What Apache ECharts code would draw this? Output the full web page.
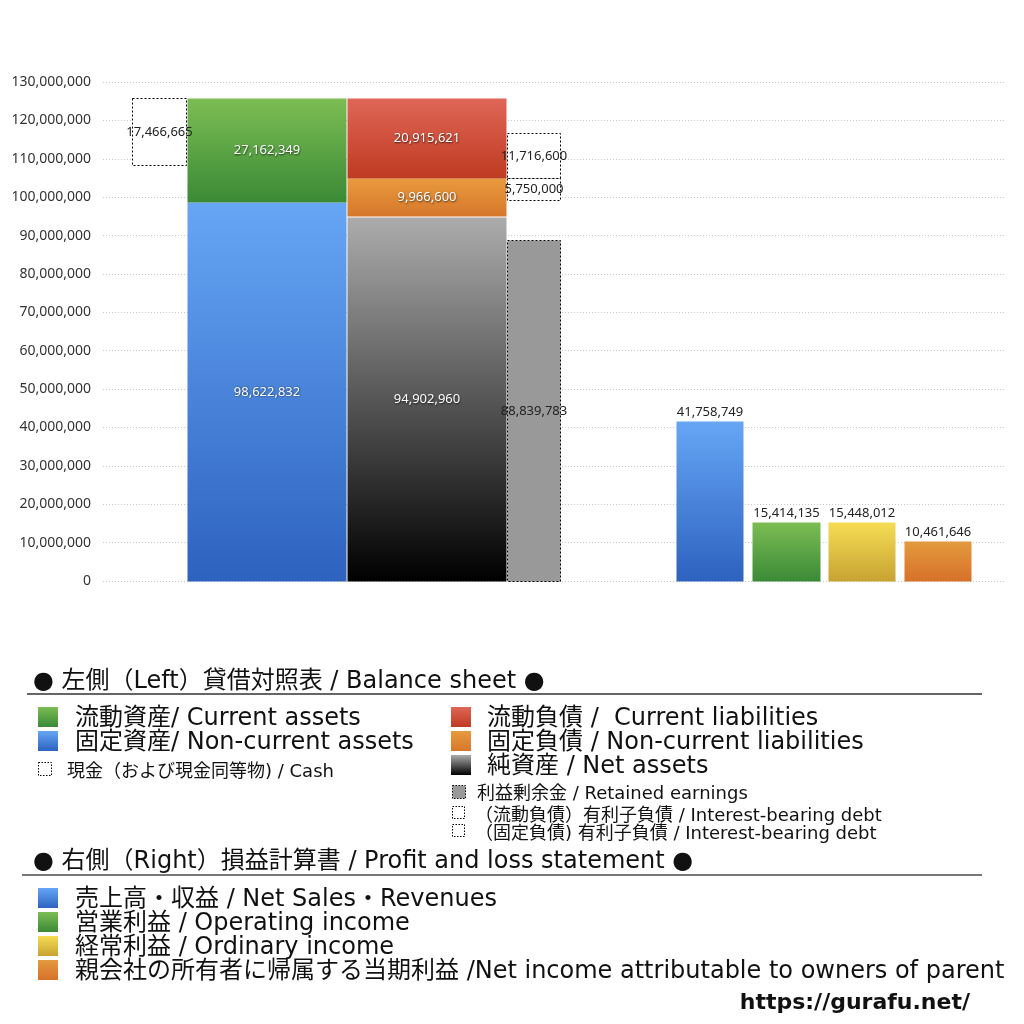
<!DOCTYPE html>
<html>
<head>
<meta charset="utf-8">
<script src="https://cdn.jsdelivr.net/npm/echarts@6/dist/echarts.min.js"></script>
<style>html,body{margin:0;padding:0;background:#fff}#chart{width:1024px;height:1024px}</style>
</head>
<body>
<div id="chart"></div>
<script>
// left side: balance sheet
const assetValues = [98622832, 27162349]               // 固定資産, 流動資産
const liabilityValues = [94902960, 9966600, 20915621]  // 純資産, 固定負債, 流動負債
const cashValue = 17466665
const retainedEarnings = 88839783
const debtValues = [5750000, 11716600]                 // 固定負債の有利子負債, 流動負債の有利子負債
// right side: profit and loss
const plNames = ['売上高・収益', '営業利益', '経常利益', '当期利益']
const plValues = [41758749, 15414135, 15448012, 10461646]
const yMin = 0, yMax = 130000000, yStep = 10000000

const FONT = '"DejaVu Sans", "Noto Sans CJK JP", sans-serif'
const NUMFONT = '"Noto Sans", sans-serif'

const grad = (a, b) => new echarts.graphic.LinearGradient(0, 0, 0, 1, [
  { offset: 0, color: a }, { offset: 1, color: b }
])
const C = {
  blue: ['#66a6f5', '#2d62bf'],
  green: ['#7cbd53', '#3a8a36'],
  red: ['#df6657', '#bf3a21'],
  orange: ['#e99a3e', '#d6772b'],
  black: ['#acacac', '#000000'],
  yellow: ['#f5dd53', '#c7a232'],
  plOrange: ['#e49a3e', '#d6712a']
}

// column positions in grid pixels (x axis is 0..902)
const COL = {
  cash: [29, 83], assets: [84, 243], liab: [244, 403], debt: [404, 457],
  pl: [[573, 640], [649, 717], [725, 792], [801, 868]]
}

const fmt = v => v.toLocaleString('en-US')
const dashed = fill => ({ fill: fill, stroke: '#000', lineWidth: 1, lineDash: [2, 2] })
const rects = []
const add = (col, lo, hi, value, style, kind) => rects.push({ col, lo, hi, value, style, kind })

let acc = 0
const assetColors = [C.blue, C.green]
assetValues.forEach((v, i) => { add(COL.assets, acc, acc + v, v, { fill: grad(...assetColors[i]) }, 'white'); acc += v })
const totalAssets = acc
add(COL.cash, totalAssets - cashValue, totalAssets, cashValue, dashed('#fff'), 'dark')

acc = 0
const liabColors = [C.black, C.orange, C.red]
liabilityValues.forEach((v, i) => { add(COL.liab, acc, acc + v, v, { fill: grad(...liabColors[i]) }, 'white'); acc += v })
const fixedTop = liabilityValues[0] + liabilityValues[1]
add(COL.debt, 0, retainedEarnings, retainedEarnings, dashed('#999'), 'dark')
add(COL.debt, fixedTop - debtValues[0], fixedTop, debtValues[0], dashed('#fff'), 'dark')
add(COL.debt, fixedTop, fixedTop + debtValues[1], debtValues[1], dashed('#fff'), 'dark')

const plColors = [C.blue, C.green, C.yellow, C.plOrange]
plValues.forEach((v, i) => add(COL.pl[i], 0, v, v, { fill: grad(...plColors[i]) }, 'top'))

const chart = echarts.init(document.getElementById('chart'))

function sq(x, y, s, fill, dash) {
  return {
    type: 'rect', shape: { x: x, y: y, width: s, height: s },
    style: dash ? { fill: fill, stroke: '#000', lineWidth: 1, lineDash: [1.5, 1.5] } : { fill: fill }
  }
}
function txt(x, cy, text, size, extra) {
  return {
    type: 'text', x: x, y: cy + 2,
    style: Object.assign({ text: text, font: size + 'px ' + FONT, fill: '#111', verticalAlign: 'middle' }, extra || {})
  }
}
const gfill = c => ({ type: 'linear', x: 0, y: 0, x2: 0, y2: 1, colorStops: [{ offset: 0, color: c[0] }, { offset: 1, color: c[1] }] })

const graphics = [
  txt(33, 680, '● 左側（Left）貸借対照表 / Balance sheet ●', 24),
  { type: 'line', shape: { x1: 27, y1: 694, x2: 982, y2: 694 }, style: { stroke: '#333', lineWidth: 1.5 } },
  sq(38, 707, 20, gfill(C.green)), txt(75, 717, '流動資産/ Current assets', 24),
  sq(38, 731, 20, gfill(C.blue)), txt(75, 741, '固定資産/ Non-current assets', 24),
  sq(38.5, 762.5, 13, '#fff', true), txt(67, 770, '現金（および現金同等物) / Cash', 18),
  sq(451, 707, 20, gfill(C.red)), txt(487, 717, '流動負債 /  Current liabilities', 24),
  sq(451, 731, 20, gfill(C.orange)), txt(487, 741, '固定負債 / Non-current liabilities', 24),
  sq(451, 755, 20, gfill(C.black)), txt(487, 765, '純資産 / Net assets', 24),
  sq(452.5, 785.5, 13, '#999', true), txt(477, 792, '利益剰余金 / Retained earnings', 18),
  sq(452.5, 806.5, 12, '#fff', true), txt(475, 814, '（流動負債）有利子負債 / Interest-bearing debt', 18),
  sq(452.5, 824.5, 12, '#fff', true), txt(475, 832, '（固定負債) 有利子負債 / Interest-bearing debt', 18),
  txt(33, 860, '● 右側（Right）損益計算書 / Profit and loss statement ●', 24),
  { type: 'line', shape: { x1: 22, y1: 875, x2: 982, y2: 875 }, style: { stroke: '#777', lineWidth: 2 } },
  sq(38, 888, 20, gfill(C.blue)), txt(75, 898, '売上高・収益 / Net Sales・Revenues', 24),
  sq(38, 912, 20, gfill(C.green)), txt(75, 922, '営業利益 / Operating income', 24),
  sq(38, 936, 20, gfill(C.yellow)), txt(75, 946, '経常利益 / Ordinary income', 24),
  sq(38, 960, 20, gfill(C.plOrange)), txt(75, 970, '親会社の所有者に帰属する当期利益 /Net income attributable to owners of parent', 24),
  txt(970, 1001, 'https://gurafu.net/', 22, { align: 'right', font: 'bold 22px "DejaVu Sans", sans-serif' })
]

chart.setOption({
  animation: false,
  backgroundColor: '#fff',
  grid: { left: 103, right: 19, top: 82, bottom: 443 },
  xAxis: { type: 'value', min: 0, max: 902, show: false },
  yAxis: {
    type: 'value', min: yMin, max: yMax, interval: yStep,
    axisLine: { show: false }, axisTick: { show: false },
    axisLabel: { formatter: v => fmt(v), color: '#333', fontSize: 14, fontFamily: NUMFONT, margin: 12 },
    splitLine: { lineStyle: { color: '#c8c8c8', type: [1, 2], width: 1 } }
  },
  series: [{
    type: 'custom',
    data: rects.map(r => [r.col[0], r.col[1], r.lo, r.hi, r.value]),
    encode: { x: [0, 1], y: [2, 3] },
    renderItem(params, api) {
      const r = rects[params.dataIndex]
      const p0 = api.coord([api.value(0), api.value(2)])
      const p1 = api.coord([api.value(1), api.value(3)])
      const labelStyle = {
        text: fmt(api.value(4)), font: '13px ' + NUMFONT,
        fill: r.kind === 'white' ? '#fff' : '#222'
      }
      if (r.kind === 'white') {
        Object.assign(labelStyle, { textShadowColor: 'rgba(0,0,0,0.7)', textShadowBlur: 2, textShadowOffsetX: 0.5, textShadowOffsetY: 0.5 })
      }
      return {
        type: 'rect',
        shape: { x: Math.round(p0[0]) + 0.5, y: Math.round(p1[1]) + 0.5, width: Math.round(p1[0] - p0[0]), height: Math.round(p0[1] - p1[1]) },
        style: r.style,
        textContent: { style: labelStyle },
        textConfig: { position: r.kind === 'top' ? 'top' : 'inside', distance: 3 }
      }
    }
  }],
  graphic: graphics
})
</script>
</body>
</html>
